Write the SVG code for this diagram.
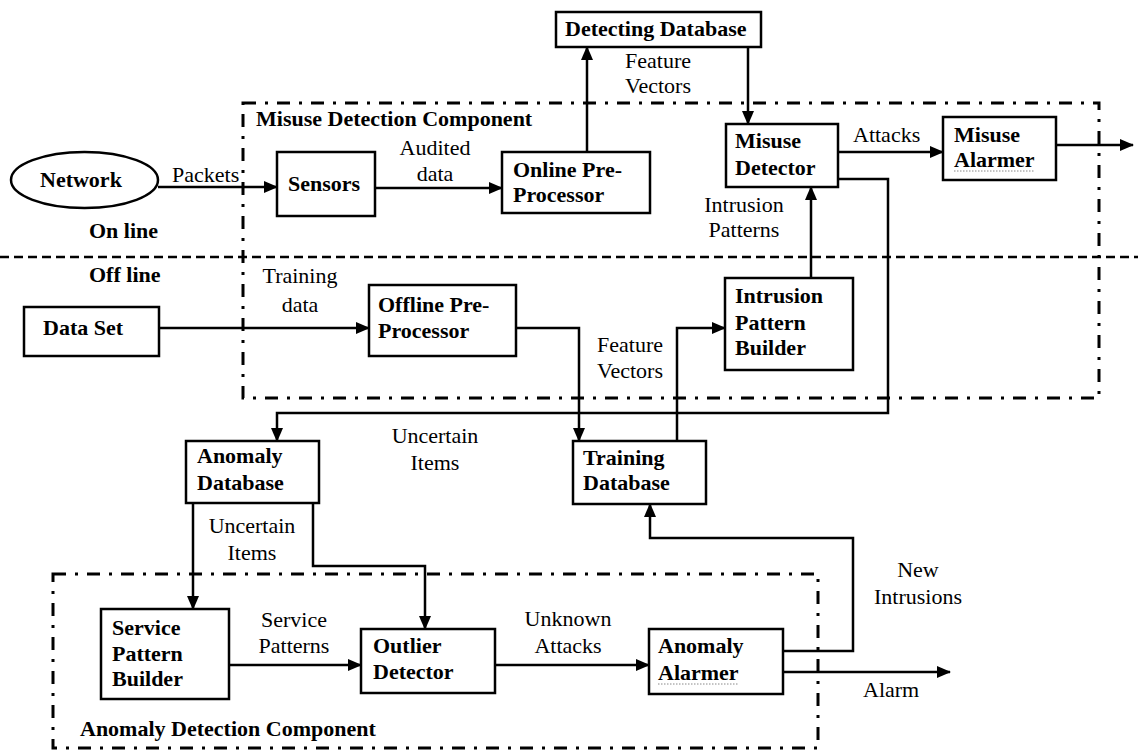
<svg xmlns="http://www.w3.org/2000/svg" width="1138" height="751" viewBox="0 0 1138 751">
<defs>
<marker id="arr" markerUnits="userSpaceOnUse" markerWidth="14" markerHeight="12" refX="13" refY="6" orient="auto">
<path d="M0,0 L14,6 L0,12 z" fill="#000"/>
</marker>
<style>
.box{fill:#fff;stroke:#000;stroke-width:2.5}
.b{font-family:"Liberation Serif","Times New Roman",serif;font-weight:bold;font-size:22px;fill:#000}
.l{font-family:"Liberation Serif","Times New Roman",serif;font-size:22px;fill:#000}
.m{text-anchor:middle}
.c{fill:none;stroke:#000;stroke-width:2.5;marker-end:url(#arr)}
.dd{fill:none;stroke:#000;stroke-width:3;stroke-dasharray:13 9 3 9}
.dash{fill:none;stroke:#000;stroke-width:2.5;stroke-dasharray:9 5}
.sq{fill:none;stroke:#888;stroke-width:1;stroke-dasharray:1.5 1.5}
</style>
</defs>
<rect width="1138" height="751" fill="#fff"/>
<g id="regions">
<rect class="dd" x="243" y="103" width="856" height="295"/>
<line class="dash" x1="0" y1="257" x2="1138" y2="257"/>
<rect class="dd" x="53" y="574" width="765" height="174"/>
<text class="b" x="256" y="126">Misuse Detection Component</text>
<text class="b" x="89" y="238">On line</text>
<text class="b" x="89" y="282">Off line</text>
<text class="b" x="80" y="736">Anomaly Detection Component</text>
</g>
<g id="connectors">
<path class="c" d="M158,187 H277"/>
<path class="c" d="M375,188 H502"/>
<path class="c" d="M587,152 V47"/>
<path class="c" d="M748,47 V124"/>
<path class="c" d="M838,152 H943"/>
<path class="c" d="M1056,145 H1133"/>
<path class="c" d="M838,179 H888 V413 H277 V441"/>
<path class="c" d="M811,278 V187"/>
<path class="c" d="M159,328 H369"/>
<path class="c" d="M516,328 H579 V441"/>
<path class="c" d="M677,441 V328 H725"/>
<path class="c" d="M193,503 V609"/>
<path class="c" d="M313,503 V566 H425 V629"/>
<path class="c" d="M229,665 H361"/>
<path class="c" d="M495,665 H649"/>
<path class="c" d="M783,651 H853 V538 H650 V504"/>
<path class="c" d="M783,672 H950"/>
<text class="l" x="172" y="182">Packets</text>
<text class="l m" x="435" y="155">Audited</text>
<text class="l m" x="435" y="181">data</text>
<text class="l" x="625" y="68">Feature</text>
<text class="l" x="625" y="93">Vectors</text>
<text class="l" x="853" y="142">Attacks</text>
<text class="l m" x="744" y="212">Intrusion</text>
<text class="l m" x="744" y="237">Patterns</text>
<text class="l m" x="300" y="283">Training</text>
<text class="l m" x="300" y="312">data</text>
<text class="l" x="597" y="352">Feature</text>
<text class="l" x="597" y="378">Vectors</text>
<text class="l m" x="435" y="443">Uncertain</text>
<text class="l m" x="435" y="470">Items</text>
<text class="l m" x="252" y="533">Uncertain</text>
<text class="l m" x="252" y="560">Items</text>
<text class="l m" x="294" y="627">Service</text>
<text class="l m" x="294" y="653">Patterns</text>
<text class="l m" x="568" y="626">Unknown</text>
<text class="l m" x="568" y="653">Attacks</text>
<text class="l m" x="918" y="577">New</text>
<text class="l m" x="918" y="604">Intrusions</text>
<text class="l" x="863" y="697">Alarm</text>
</g>
<g id="detecting-database"><rect class="box" x="556" y="12" width="205" height="35"/><text class="b" x="565" y="36">Detecting Database</text></g>
<g id="network"><ellipse class="box" cx="84.5" cy="180" rx="73.5" ry="28"/><text class="b" x="40" y="187">Network</text></g>
<g id="sensors"><rect class="box" x="277" y="152" width="98" height="64"/><text class="b" x="288" y="191">Sensors</text></g>
<g id="online-pre-processor"><rect class="box" x="502" y="152" width="148" height="61"/><text class="b" x="513" y="177">Online Pre-</text><text class="b" x="513" y="202">Processor</text></g>
<g id="misuse-detector"><rect class="box" x="726" y="124" width="112" height="63"/><text class="b" x="735" y="148">Misuse</text><text class="b" x="735" y="175">Detector</text></g>
<g id="misuse-alarmer"><rect class="box" x="943" y="117" width="113" height="63"/><text class="b" x="954" y="142">Misuse</text><text class="b" x="954" y="167">Alarmer</text><line class="sq" x1="954" y1="171" x2="1034" y2="171"/></g>
<g id="data-set"><rect class="box" x="24" y="307" width="135" height="49"/><text class="b" x="43" y="335">Data Set</text></g>
<g id="offline-pre-processor"><rect class="box" x="369" y="285" width="147" height="71"/><text class="b" x="378" y="312">Offline Pre-</text><text class="b" x="378" y="338">Processor</text></g>
<g id="intrusion-pattern-builder"><rect class="box" x="725" y="278" width="128" height="92"/><text class="b" x="735" y="303">Intrusion</text><text class="b" x="735" y="330">Pattern</text><text class="b" x="735" y="355">Builder</text></g>
<g id="anomaly-database"><rect class="box" x="186" y="441" width="133" height="62"/><text class="b" x="197" y="463">Anomaly</text><text class="b" x="197" y="490">Database</text></g>
<g id="training-database"><rect class="box" x="573" y="441" width="133" height="63"/><text class="b" x="583" y="465">Training</text><text class="b" x="583" y="490">Database</text></g>
<g id="service-pattern-builder"><rect class="box" x="101" y="609" width="128" height="90"/><text class="b" x="112" y="635">Service</text><text class="b" x="112" y="661">Pattern</text><text class="b" x="112" y="686">Builder</text></g>
<g id="outlier-detector"><rect class="box" x="361" y="629" width="134" height="64"/><text class="b" x="373" y="653">Outlier</text><text class="b" x="373" y="679">Detector</text></g>
<g id="anomaly-alarmer"><rect class="box" x="649" y="629" width="134" height="65"/><text class="b" x="658" y="653">Anomaly</text><text class="b" x="658" y="680">Alarmer</text><line class="sq" x1="658" y1="684" x2="738" y2="684"/></g>
</svg>
